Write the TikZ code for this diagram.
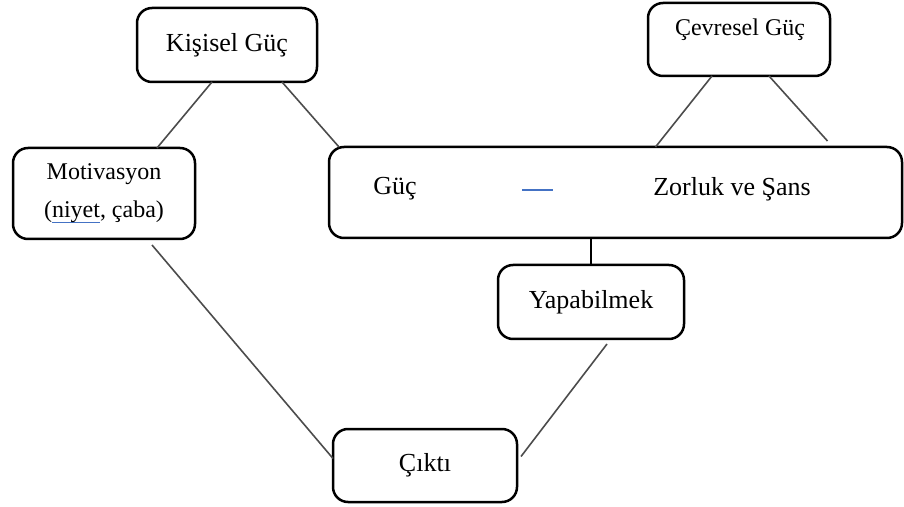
\documentclass[tikz,border=0pt]{standalone}
\usepackage{fontspec}
\setmainfont{Liberation Serif}
\usepackage{xcolor}
\usepackage{tikz}
\usetikzlibrary{calc,positioning}
\definecolor{wordblue}{RGB}{68,114,196}
\newsavebox\ulbox
\newcommand\blueline[1]{\sbox\ulbox{#1}\rlap{\textcolor{wordblue}{\rule[-2.6pt]{\wd\ulbox}{0.7pt}}}\usebox\ulbox}

\begin{document}
\begin{tikzpicture}[x = 0.5pt, y = -0.5pt,
  box/.style = {draw, line width = 1.25pt, rounded corners = 7.5pt, inner sep = 0pt, outer sep = 0pt, font = \fontsize{13}{16}\selectfont},
  link/.style = {draw = black!70, line width = 0.8pt}]
\useasboundingbox (0,0) rectangle (904,507);
\node[box, minimum width = 90pt, minimum height = 37pt] (kisisel) at (227,45) {Kişisel Güç};
\node[box, minimum width = 91pt, minimum height = 36.5pt] (cevre) at (739,39.5) {};
\node[font = \fontsize{12}{14}\selectfont] (cevretext) at (740,30) {Çevresel Güç};
\node[box, minimum width = 91pt, minimum height = 45.5pt, align = center, font = \fontsize{12}{19}\selectfont] (motiv) at (104,193.5)
  {Motivasyon\\(\blueline{niyet}, çaba)};
\node[box, minimum width = 286.5pt, minimum height = 45.5pt] (big) at (615.5,192.5) {};
\node[font = \fontsize{13}{16}\selectfont] (guc) at (395,189) {Güç};
\node[font = \fontsize{13}{16}\selectfont] (zorluk) at (732,189) {Zorluk ve Şans};
\coordinate (dashL) at (522,190);
\coordinate (dashR) at (553,190);
\draw[wordblue, line width = 0.7pt] (dashL) -- (dashR);
\node[box, minimum width = 93pt, minimum height = 37pt] (yapa) at (591,302) {Yapabilmek};
\node[box, minimum width = 92pt, minimum height = 36.5pt] (cikti) at (425,465.5) {Çıktı};
\draw[link] ($(kisisel.south)+(-15,0)$) -- ($(motiv.north)+(53,0)$);
\draw[link] ($(kisisel.south)+(55,0)$) -- ($(big.north west)+(10,0)$);
\draw[link] ($(cevre.south)+(-27,0)$) -- ($(big.north)+(40,0)$);
\draw[link] ($(cevre.south)+(30,0)$) -- ($(big.north)+(212,-6)$);
\draw[line width = 0.6pt] (yapa.north) -- (yapa.north |- big.south);
\draw[link] ($(motiv.south)+(48,6)$) -- ($(cikti.west)+(0,-7)$);
\draw[link] ($(yapa.south)+(16,5)$) -- ($(cikti.east)+(4,-9)$);
\end{tikzpicture}
\end{document}
